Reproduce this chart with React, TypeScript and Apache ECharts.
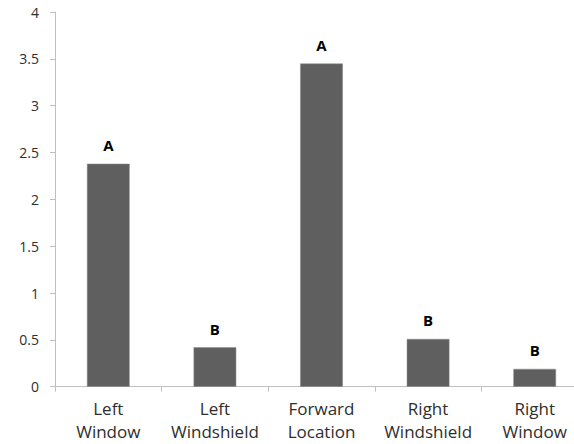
import React, { useEffect, useRef } from "react";
import * as echarts from "echarts";

const categories = ["Left\nWindow", "Left\nWindshield", "Forward\nLocation", "Right\nWindshield", "Right\nWindow"];
const values = [2.38, 0.42, 3.45, 0.51, 0.19];
const letters = ["A", "B", "A", "B", "B"];
const yTicks = { min: 0, max: 4, interval: 0.5 };

export default function App() {
  const ref = useRef<HTMLDivElement>(null);
  useEffect(() => {
    if (!ref.current) return;
    const chart = echarts.init(ref.current, undefined, { renderer: "svg" });
    chart.setOption({
      animation: false,
      backgroundColor: "#ffffff",
      textStyle: { fontFamily: "Open Sans" },
      grid: { left: 55, top: 12, width: 533, height: 374.7, containLabel: false },
      xAxis: {
        type: "category",
        data: categories,
        axisLine: { lineStyle: { color: "#bfbfbf", width: 1 } },
        axisTick: { show: true, alignWithLabel: false, length: 5, lineStyle: { color: "#bfbfbf" } },
        axisLabel: { color: "#2e2e2e", fontSize: 17, lineHeight: 23, margin: 10, interval: 0 },
        splitLine: { show: false },
      },
      yAxis: {
        type: "value",
        min: yTicks.min,
        max: yTicks.max,
        interval: yTicks.interval,
        axisLine: { show: true, lineStyle: { color: "#bfbfbf", width: 1 } },
        axisTick: { show: true, length: 5, lineStyle: { color: "#bfbfbf" } },
        axisLabel: { color: "#2e2e2e", fontSize: 14, margin: 16 },
        splitLine: { show: false },
      },
      series: [
        {
          type: "bar",
          data: values,
          barWidth: "40%",
          itemStyle: { color: "#5f5f5f", borderColor: "#8a8a8a", borderWidth: 0.5 },
          label: {
            show: true,
            position: "top",
            distance: 11,
            formatter: (p: any) => letters[p.dataIndex],
            fontWeight: "bold",
            fontSize: 15,
            color: "#000000",
            fontFamily: "Open Sans",
          },
        },
      ],
    });
    return () => chart.dispose();
  }, []);
  return (
    <div style={{ width: 574, height: 444, position: "absolute", left: 0, top: 0, overflow: "hidden", background: "#fff" }}>
      <div ref={ref} style={{ width: 620, height: 444 }} />
    </div>
  );
}
